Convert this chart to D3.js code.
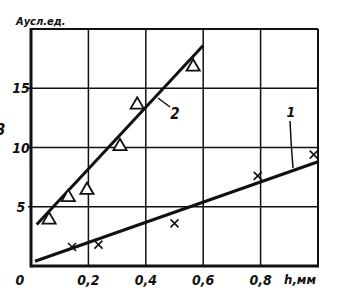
<!DOCTYPE html>
<html>
<head>
<meta charset="utf-8">
<script src="https://cdn.jsdelivr.net/npm/d3@7"></script>
<style>
	body { margin: 0; background: #fff; }
	text { font-family: "Liberation Sans Narrow", "DejaVu Sans Condensed", Arial, sans-serif; font-style: italic; font-weight: bold; fill: #111; }
</style>
</head>
<body>
<div id="chart"></div>
<script>
'use strict'
// values
var xTicks = [0.2, 0.4, 0.6, 0.8];
var xTickLabels = ["0,2", "0,4", "0,6", "0,8"];
var yTicks = [5, 10, 15];
var yTickLabels = ["5", "10", "15"];
var triH = [0.063, 0.13, 0.195, 0.31, 0.37, 0.565];
var triA = [3.9, 5.8, 6.4, 10.1, 13.6, 16.8];
var crossH = [0.143, 0.235, 0.5, 0.79, 0.985];
var crossA = [1.6, 1.8, 3.6, 7.6, 9.4];
var line1 = [[0.014, 0.4], [1.0, 8.8]];
var line2 = [[0.02, 3.5], [0.6, 18.6]];

var w = 347, h = 292;
var x = d3.scaleLinear().domain([0, 1]).range([31, 318]);
var y = d3.scaleLinear().domain([0, 20]).range([266, 29]);

var svg = d3.select("#chart").append("svg").attr("width", w).attr("height", h);

// grid
var grid = svg.append("g").attr("stroke", "#111").attr("stroke-width", 1.5);
grid.selectAll("line.v").data(xTicks).enter().append("line")
	.attr("x1", function(d){ return x(d); }).attr("x2", function(d){ return x(d); })
	.attr("y1", y(20)).attr("y2", y(0));
grid.selectAll("line.h").data(yTicks).enter().append("line")
	.attr("x1", x(0) - 3).attr("x2", x(1))
	.attr("y1", function(d){ return y(d); }).attr("y2", function(d){ return y(d); });

// frame
svg.append("line").attr("x1", x(0)).attr("x2", x(1)).attr("y1", y(20)).attr("y2", y(20))
	.attr("stroke", "#111").attr("stroke-width", 2);
svg.append("line").attr("x1", x(1)).attr("x2", x(1)).attr("y1", y(20)).attr("y2", y(0))
	.attr("stroke", "#111").attr("stroke-width", 2);
svg.append("line").attr("x1", x(0)).attr("x2", x(0)).attr("y1", y(20) - 1).attr("y2", y(0) + 1.5)
	.attr("stroke", "#111").attr("stroke-width", 3);
svg.append("line").attr("x1", x(0)).attr("x2", x(1) + 1).attr("y1", y(0)).attr("y2", y(0))
	.attr("stroke", "#111").attr("stroke-width", 3);

// tick labels
svg.selectAll("text.xl").data(xTicks).enter().append("text")
	.attr("x", function(d){ return x(d); }).attr("y", 285)
	.attr("text-anchor", "middle").attr("font-size", 14)
	.text(function(d, i){ return xTickLabels[i]; });
svg.append("text").attr("x", 20).attr("y", 285).attr("text-anchor", "middle").attr("font-size", 14).text("0");
svg.append("text").attr("x", 300).attr("y", 284).attr("text-anchor", "middle").attr("font-size", 13).text("h,мм");
svg.selectAll("text.yl").data(yTicks).enter().append("text")
	.attr("x", 21).attr("y", function(d){ return y(d) + 5; })
	.attr("text-anchor", "middle").attr("font-size", 14)
	.text(function(d, i){ return yTickLabels[i]; });
svg.append("text").attr("x", 16).attr("y", 25).attr("font-size", 11).text("Aусл.ед.");
svg.append("text").attr("x", -4).attr("y", 135).attr("font-size", 15).text("3");

// fitted lines
var lineGen = d3.line().x(function(d){ return x(d[0]); }).y(function(d){ return y(d[1]); });
[line1, line2].forEach(function(l){
	svg.append("path").attr("d", lineGen(l)).attr("fill", "none")
		.attr("stroke", "#111").attr("stroke-width", 3);
});

// triangles
svg.selectAll("path.tri").data(triH).enter().append("path")
	.attr("d", d3.symbol().type(d3.symbolTriangle).size(75))
	.attr("transform", function(d, i){ return "translate(" + x(d) + "," + y(triA[i]) + ")"; })
	.attr("fill", "#fff").attr("stroke", "#111").attr("stroke-width", 1.8);

// crosses
svg.selectAll("path.cross").data(crossH).enter().append("path")
	.attr("d", "M-4,-4L4,4M-4,4L4,-4")
	.attr("transform", function(d, i){ return "translate(" + x(d) + "," + y(crossA[i]) + ")"; })
	.attr("stroke", "#111").attr("stroke-width", 1.6);

// curve labels with leaders
svg.append("path").attr("d", "M158,98L170,107").attr("stroke", "#111").attr("stroke-width", 1.5);
svg.append("text").attr("x", 175).attr("y", 119).attr("text-anchor", "middle").attr("font-size", 15).text("2");
svg.append("path").attr("d", "M290,121Q291,145 293,168").attr("fill", "none").attr("stroke", "#111").attr("stroke-width", 1.5);
svg.append("text").attr("x", 291).attr("y", 117).attr("text-anchor", "middle").attr("font-size", 14).text("1");
</script>
</body>
</html>
